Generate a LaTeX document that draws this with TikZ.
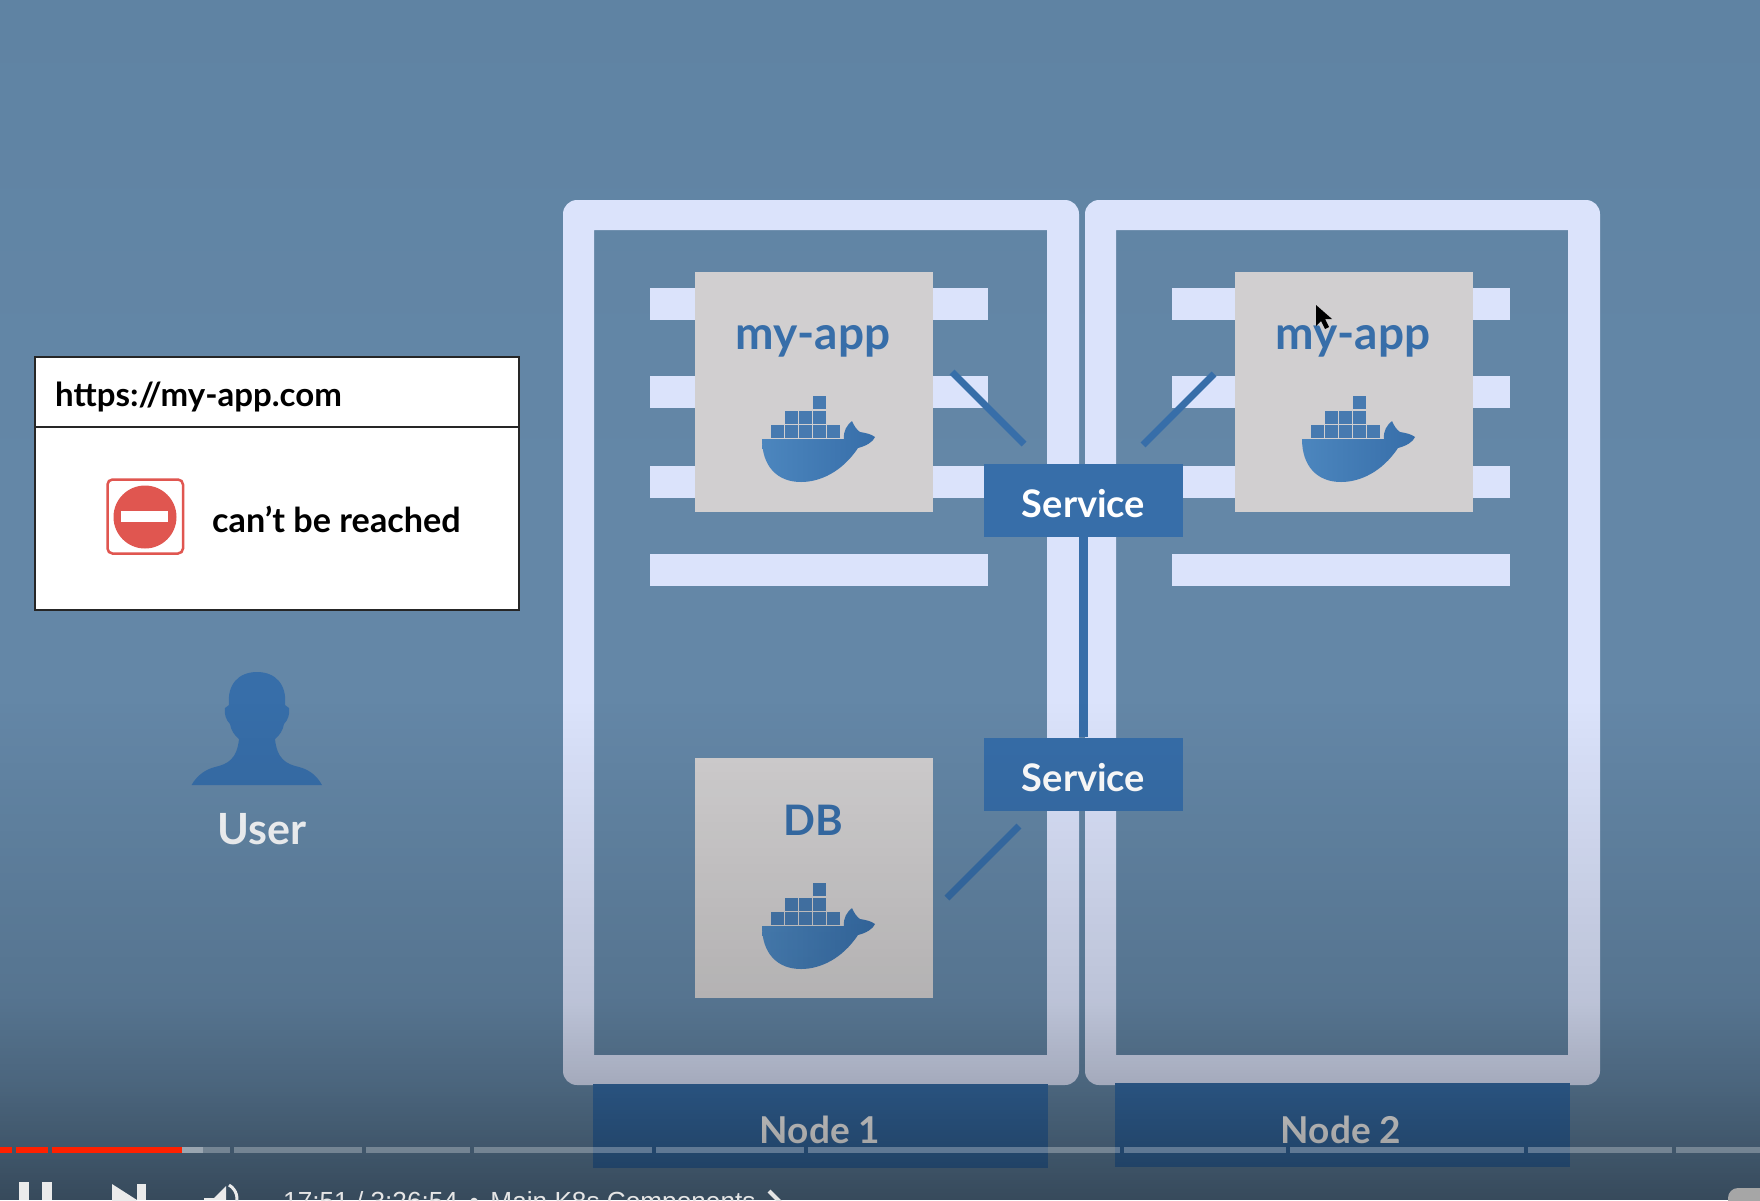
\documentclass[tikz,border=0pt]{standalone}
\usepackage{fontspec}
\setmainfont{Lato}
\newfontfamily\uifont{Liberation Sans}
\usetikzlibrary{fadings}

\definecolor{bgTop}{HTML}{5F83A3}
\definecolor{bgMid}{HTML}{6487A7}
\definecolor{frameCol}{HTML}{DBE3FB}
\definecolor{podCol}{HTML}{D1CFD0}
\definecolor{blueCol}{HTML}{376EA9}
\definecolor{hullCol}{HTML}{4C86BE}
\definecolor{stopCol}{HTML}{E05650}

\tikzfading[name=fadeOne, top color=transparent!100, bottom color=transparent!86]
\tikzfading[name=fadeTwo, top color=transparent!86, bottom color=transparent!75]
\tikzfading[name=fadeThree, top color=transparent!75, bottom color=transparent!55]

\tikzset{
  slotbar/.style={fill=frameCol},
  podbox/.style={fill=podCol, minimum width=238pt, minimum height=240pt, inner sep=0pt},
  svcbox/.style={fill=blueCol, text=white, minimum width=199pt, minimum height=73pt, inner sep=0pt,
    font=\fontsize{38}{38}\selectfont\bfseries},
  nodelabel/.style={fill=blueCol, text=white, minimum width=455pt, minimum height=84pt, inner sep=0pt},
  podtext/.style={text=blueCol, inner sep=0pt, anchor=base, font=\fontsize{46}{46}\selectfont\bfseries},
  blacktext/.style={text=black, inner sep=0pt, anchor=base west, font=\fontsize{33}{33}\selectfont\bfseries},
  nodetext/.style={text=white, inner sep=0pt, font=\fontsize{37}{37}\selectfont\bfseries},
  link/.style={draw=blueCol, line width=7pt},
  progress/.style={fill=white, opacity=0.28},
  pics/whale/.style={code={
    % containers
    \foreach \cx in {9,23,37,51,65}
      \fill[blueCol!92!white] (\cx,29) rectangle ++(12.5,12.5);
    \foreach \cx in {23,37,51}
      \fill[blueCol!92!white] (\cx,15) rectangle ++(12.5,12.5);
    \fill[blueCol!92!white] (51,0) rectangle ++(12.5,13);
    % hull
    \shade[left color=hullCol, right color=blueCol]
      (0,43) -- (82,43) .. controls (81,35) and (85,29) .. (90,25)
      .. controls (92,30) and (95,34) .. (98,36)
      .. controls (104,37) and (109,38) .. (113,41)
      .. controls (111,46) and (104,50) .. (96,52)
      .. controls (80,76) and (58,86) .. (39,86)
      .. controls (15,86) and (0,70) .. (0,43) -- cycle;
  }}
}

\begin{document}
\begin{tikzpicture}[x=1pt, y=-1pt]
  \useasboundingbox (0,0) rectangle (1760,1200);
  \clip (0,0) rectangle (1760,1200);

  % Background
  \shade[top color=bgTop, bottom color=bgMid] (0,0) rectangle (1760,500);
  \fill[bgMid] (0,500) rectangle (1760,1200);

  % Node frames
  \fill[frameCol, even odd rule] [rounded corners=14pt] (563,200) rectangle (1079,1085)
    [sharp corners] (594,230) rectangle (1047,1055);
  \fill[frameCol, even odd rule] [rounded corners=14pt] (1085,200) rectangle (1600,1085)
    [sharp corners] (1116,230) rectangle (1568,1055);

  % Slots
  \foreach \sy in {288,376,466,554} {
    \fill[slotbar] (650,\sy) rectangle (988,\sy+32);
    \fill[slotbar] (1172,\sy) rectangle (1510,\sy+32);
  }

  % Pods
  \node (app1) at (814,392) [podbox] {};
  \node (app2) at (1354,392) [podbox] {};
  \node (db) at (814,878) [podbox] {};
  \node (app1label) at (813,349) [podtext] {my-app};
  \node (app2label) at (1353,349) [podtext] {my-app};
  \node (dblabel) at (813,835) [podtext, font=\fontsize{42}{42}\selectfont\bfseries] {DB};
  \pic at (762,396) {whale};
  \pic at (1302,396) {whale};
  \pic at (762,883) {whale};

  % Services and connections
  \node (svc1) at (1083.5,500) [svcbox] {\raisebox{-4pt}[0.7em][0pt]{Service}};
  \node (svc2) at (1083.5,774) [svcbox] {\raisebox{-4pt}[0.7em][0pt]{Service}};
  \coordinate (app1end) at (952,372);
  \coordinate (svc1left) at (1024,444);
  \coordinate (app2end) at (1214,374);
  \coordinate (svc1right) at (1143,445);
  \coordinate (svc2end) at (1019,826);
  \coordinate (dbend) at (947,898);
  \draw[link] (app1end) -- (svc1left);
  \draw[link] (app2end) -- (svc1right);
  \draw[link] (svc2end) -- (dbend);
  \draw[blueCol, line width=9pt] (svc1.south) -- (svc2.north);

  % Node labels
  \node (node1) at (820.5,1126) [nodelabel] {};
  \node (node2) at (1342,1125) [nodelabel] {};
  \node (node1text) at (820,1130) [nodetext] {Node 1};
  \node (node2text) at (1341,1130) [nodetext] {Node 2};

  % Browser window
  \draw[fill=white, draw=black!85, line width=2pt] (35,357) rectangle (519,610);
  \draw[draw=black!85, line width=2.5pt] (35,427) -- (519,427);
  \node (url) at (55,406) [blacktext] {https://my-app.com};
  \node (reached) at (212,532) [blacktext, font=\fontsize{34.2}{34.2}\selectfont\bfseries] {can't be reached};

  % Stop sign
  \draw[stopCol, line width=2.5pt, rounded corners=5pt, fill=white] (107.5,479.5) rectangle (183,553.5);
  \fill[stopCol] (145,517) circle (31.5);
  \fill[white] (121,511) rectangle (168,522);

  % User
  \fill[blueCol] (191.5,785) .. controls (198,774) and (207,769) .. (215,767)
    .. controls (228,764) and (237,759) .. (239,739) .. controls (234,735) and (231,730) .. (230,724)
    .. controls (226,720) and (224,714) .. (225,708) -- (229,705)
    .. controls (227,685) and (238,672) .. (257,672)
    .. controls (276,672) and (287,685) .. (285,705) -- (289,708)
    .. controls (290,714) and (288,720) .. (284,724) .. controls (283,730) and (280,735) .. (275,739)
    .. controls (277,759) and (286,764) .. (299,767)
    .. controls (307,769) and (316,774) .. (322,785) -- cycle;
  \node (user) at (262,829) [text=white!95!bgMid, inner sep=0pt, font=\fontsize{43}{43}\selectfont\bfseries] {User};

  % Mouse pointer
  \fill[black] (1316,305) -- (1316,326) -- (1321,321) -- (1325,329) -- (1329,327) -- (1325,319) -- (1332,319) -- cycle;

  % Fade towards the bottom
  \fill[black, path fading=fadeOne] (0,700) rectangle (1760,1000);
  \fill[black, path fading=fadeTwo] (0,1000) rectangle (1760,1085);
  \fill[black, path fading=fadeThree] (0,1085) rectangle (1760,1200);

  % Player bar
  \foreach \ax/\bx in {182/230,234/362,366/470,474/652,656/804,808/1120,1124/1286,1290/1524,1528/1672,1676/1760}
    \fill[progress] (\ax,1147) rectangle (\bx,1153);
  \fill[progress] (182,1147) rectangle (203,1153);
  \foreach \ax/\bx in {0/12,16/48,52/182}
    \fill[red!75!orange] (\ax,1147) rectangle (\bx,1153);
  \fill[white!92!black] (19,1182) rectangle (29,1200);
  \fill[white!92!black] (42,1182) rectangle (52,1200);
  \fill[white!92!black] (112,1184) -- (137,1200) -- (112,1216) -- cycle;
  \fill[white!92!black] (137,1184) rectangle (146,1200);
  \fill[white!92!black] (204,1198) -- (214,1198) -- (226,1186) -- (226,1200) -- (204,1200) -- cycle;
  \draw[white!92!black, line width=3pt] (229,1185) arc (-60:30:16);
  \node (playtime) at (283,1210) [anchor=base west, text=white!90!black, inner sep=0pt, font=\uifont\fontsize{26.2}{26.2}\selectfont] {17:51 / 3:26:54 \,•\, Main K8s Components};
  \draw[white!90!black, line width=4pt] (769,1191) -- (781,1203);
  \fill[gray!70!white, rounded corners=10pt] (1728,1188) rectangle (1790,1230);
\end{tikzpicture}
\end{document}
